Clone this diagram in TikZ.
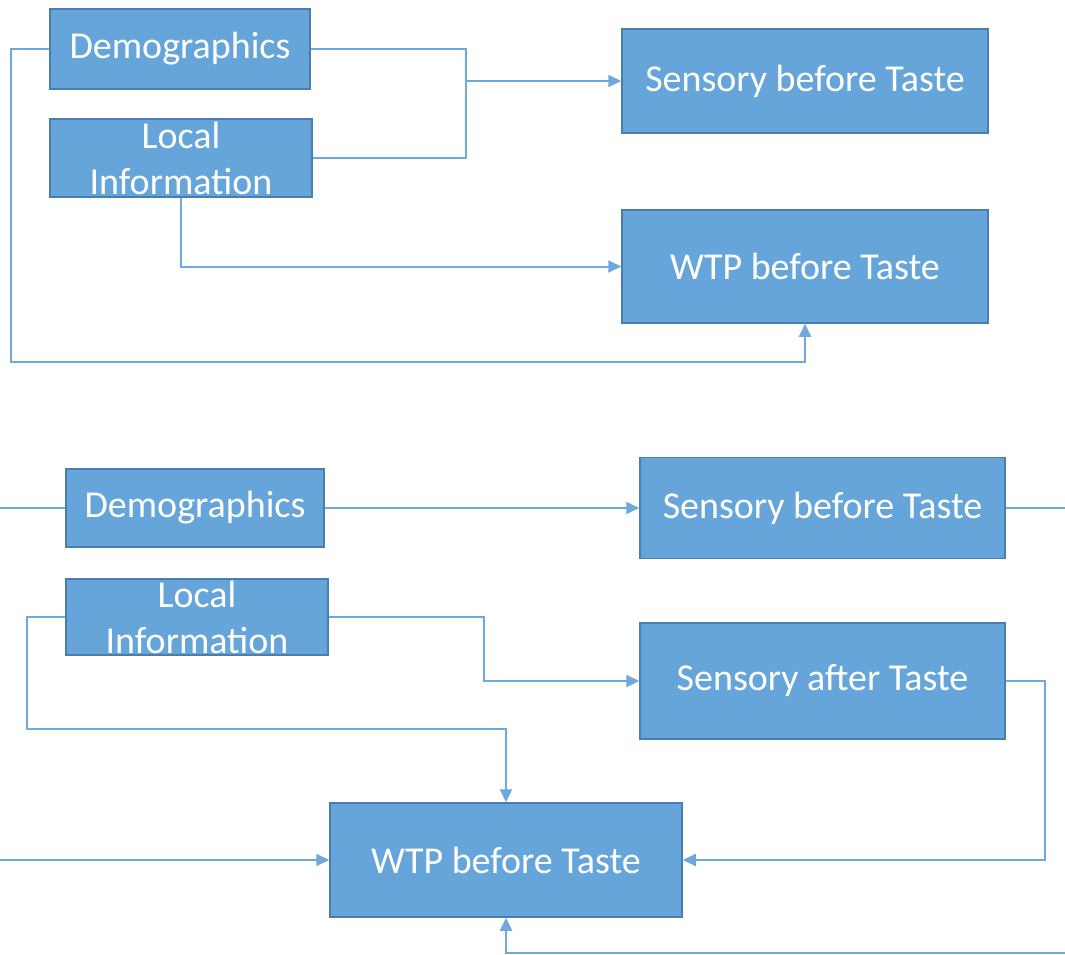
\documentclass[tikz,border=0pt]{standalone}
\usepackage{fontspec}
\setmainfont{Carlito}
\usetikzlibrary{arrows.meta}
\definecolor{boxfill}{HTML}{66A5D9}
\definecolor{boxdraw}{HTML}{4A7EB0}
\definecolor{linecol}{HTML}{6FA8DC}
\begin{document}
\begin{tikzpicture}[x=1pt,y=-1pt,
  box/.style={draw=boxdraw,line width=1.5pt,fill=boxfill,text=white,inner sep=0pt,
    font=\fontsize{38}{46}\selectfont,align=center},
  conn/.style={draw=linecol,line width=2pt},
  arr/.style={conn,-{Triangle[length=13pt,width=12pt]}}]
\useasboundingbox (0,0) rectangle (1065,955);
% top part
\node[box,minimum width=260pt,minimum height=80pt] (d1) at (180,49) {Demographics};
\node[box,minimum width=262pt,minimum height=78pt] (l1) at (181,158) {Local\\Information};
\node[box,minimum width=366pt,minimum height=104pt] (s1) at (805,81) {Sensory before Taste};
\node[box,minimum width=366pt,minimum height=113pt] (w1) at (805,266.5) {WTP before Taste};
\coordinate (j1) at (466,81);
\draw[conn] (d1.east) -| (j1);
\draw[conn] (l1.east) -| (j1);
\draw[arr] (j1) -- (s1.west);
\draw[arr] (l1.south) |- (w1.west);
\draw[arr] (d1.west) -- (11,49) -- (11,362) -| (w1.south);
% bottom part
\node[box,minimum width=258pt,minimum height=78pt] (d2) at (195,508) {Demographics};
\node[box,minimum width=262pt,minimum height=76pt] (l2) at (197,617) {Local\\Information};
\node[box,minimum width=365pt,minimum height=101pt] (s2) at (822.5,508) {Sensory before Taste};
\node[box,minimum width=365pt,minimum height=116pt] (a2) at (822.5,681) {Sensory after Taste};
\node[box,minimum width=352pt,minimum height=114pt] (w2) at (506,860) {WTP before Taste};
\coordinate (inD) at (0,508);
\coordinate (outS) at (1065,508);
\coordinate (inW) at (0,860);
\coordinate (inB) at (1065,953);
\draw[conn] (inD) -- (d2.west);
\draw[arr] (d2.east) -- (s2.west);
\draw[conn] (s2.east) -- (outS);
\draw[arr] (l2.east) -- (484,617) |- (a2.west);
\draw[arr] (l2.west) -- (27,617) -- (27,729) -| (w2.north);
\draw[arr] (inW) -- (w2.west);
\draw[arr] (a2.east) -- (1045,681) |- (w2.east);
\draw[arr] (inB) -| (w2.south);
\end{tikzpicture}
\end{document}
